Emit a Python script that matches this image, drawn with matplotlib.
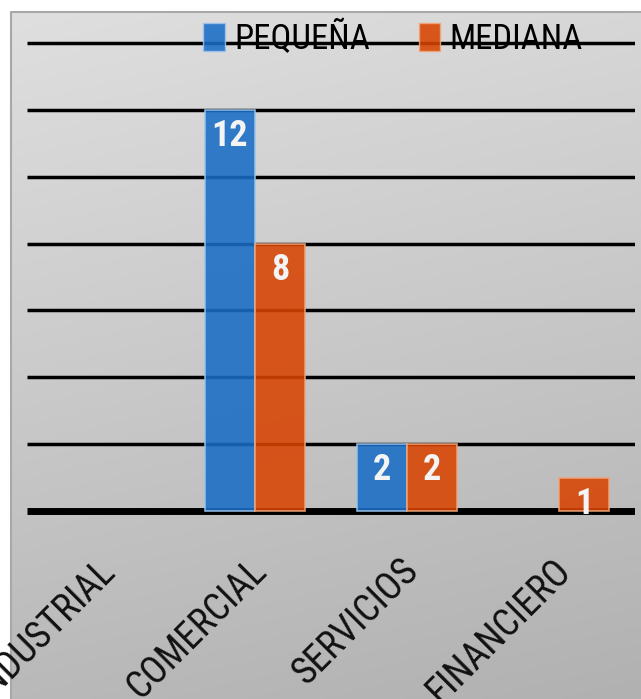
import numpy as np
import matplotlib
matplotlib.use("Agg")
import matplotlib.pyplot as plt
from matplotlib.patches import Patch
import matplotlib.transforms as mtransforms
from matplotlib import font_manager as fm

categories = ["INDUSTRIAL", "COMERCIAL", "SERVICIOS", "FINANCIERO"]
series_names = ["PEQUEÑA", "MEDIANA"]
pequena = [0, 12, 2, 0]
mediana = [0, 8, 2, 1]
yticks = [0, 2, 4, 6, 8, 10, 12, 14]

# pick a narrow font if available
names = {f.name for f in fm.fontManager.ttflist}
cond = [f for f in fm.fontManager.ttflist if f.name == "DejaVu Sans" and str(f.stretch) in ("condensed", "semi-condensed")]
FONT = ["DejaVu Sans"]
STRETCH = "condensed" if cond else "normal"
for cand in ["Liberation Sans Narrow", "Roboto Condensed", "Open Sans Condensed"]:
    if cand in names:
        FONT = [cand, "DejaVu Sans"]
        STRETCH = "normal"
        break
plt.rcParams["font.family"] = FONT
plt.rcParams["font.stretch"] = STRETCH

W, H = 641, 699
fig = plt.figure(figsize=(W / 100, H / 100), dpi=100)
fig.patch.set_facecolor("white")

# gradient background panel
bg = fig.add_axes([11 / W, 0, 1 - 11 / W, 1 - 12 / H], zorder=0)
ny, nx = 200, 200
ty = np.linspace(0, 1, ny)[:, None]
tx = np.linspace(0, 1, nx)[None, :]
val = (223 - 38 * ty - 8 * tx) / 255.0
img = np.dstack([val, val, val])
bg.imshow(img, aspect="auto", extent=[0, 1, 0, 1], origin="upper")
bg.set_xlim(0, 1)
bg.set_ylim(0, 1)
bg.axis("off")
bg.plot([0, 0, 1], [0, 1, 1], color="#a8a8a8", lw=1.5, transform=bg.transAxes, clip_on=False)

# main axes
px_per_unit = (511 - 43) / 14.0
ylo, yhi = -0.2, 14.2
ax_bottom_px = 511 + (-ylo) * px_per_unit
ax_top_px = 43 - (yhi - 14) * px_per_unit
ax = fig.add_axes([27 / W, 1 - ax_bottom_px / H, 608 / W, (ax_bottom_px - ax_top_px) / H], zorder=1)
ax.patch.set_alpha(0)
ax.set_xlim(-0.5, 3.5)
ax.set_ylim(ylo, yhi)

for y in yticks:
    ax.axhline(y, color="black", lw=5 if y == 0 else 2.5, zorder=1, solid_capstyle="butt")

x = np.arange(len(categories))
bw_ = 0.33
off = 0.166
blue = "#196DC6"
orange = "#D84402"
b1 = ax.bar(x - off, pequena, bw_, color=blue, alpha=0.88, edgecolor="#9cc4ec",
            linewidth=[1.2 if v else 0 for v in pequena], zorder=2)
b2 = ax.bar(x + off, mediana, bw_, color=orange, alpha=0.88, edgecolor="#f0a67a",
            linewidth=[1.2 if v else 0 for v in mediana], zorder=2)

for bars, vals in ((b1, pequena), (b2, mediana)):
    for rect, v in zip(bars, vals):
        if v == 0:
            continue
        ax.annotate(str(v), (rect.get_x() + rect.get_width() / 2, v), xytext=(0, -26),
                    textcoords="offset pixels", ha="center", va="center", color="#f4f4f4",
                    fontsize=26, fontweight="bold", zorder=5)

for s in ax.spines.values():
    s.set_visible(False)
ax.set_yticks([])
ax.set_xticks(x)
ax.set_xticklabels(categories, rotation=45, ha="right", va="center", rotation_mode="anchor",
                   fontsize=27, color="#111111")
ax.tick_params(axis="x", length=0, pad=34)
shift = mtransforms.ScaledTranslation(6 / 100, 0, fig.dpi_scale_trans)
for lab in ax.get_xticklabels():
    lab.set_transform(lab.get_transform() + shift)

handles = [Patch(facecolor=blue, alpha=0.88, edgecolor="#9cc4ec", label=series_names[0]),
           Patch(facecolor=orange, alpha=0.88, edgecolor="#f0a67a", label=series_names[1])]
leg = ax.legend(handles=handles, loc="center", bbox_to_anchor=(393 / W, 1 - 38 / H),
                bbox_transform=fig.transFigure, ncol=2, frameon=False,
                handlelength=0.63, handleheight=0.86, handletextpad=0.26, columnspacing=1.4,
                prop={"size": 25, "stretch": STRETCH})
leg.set_zorder(6)

fig.savefig("out.png", dpi=100)
